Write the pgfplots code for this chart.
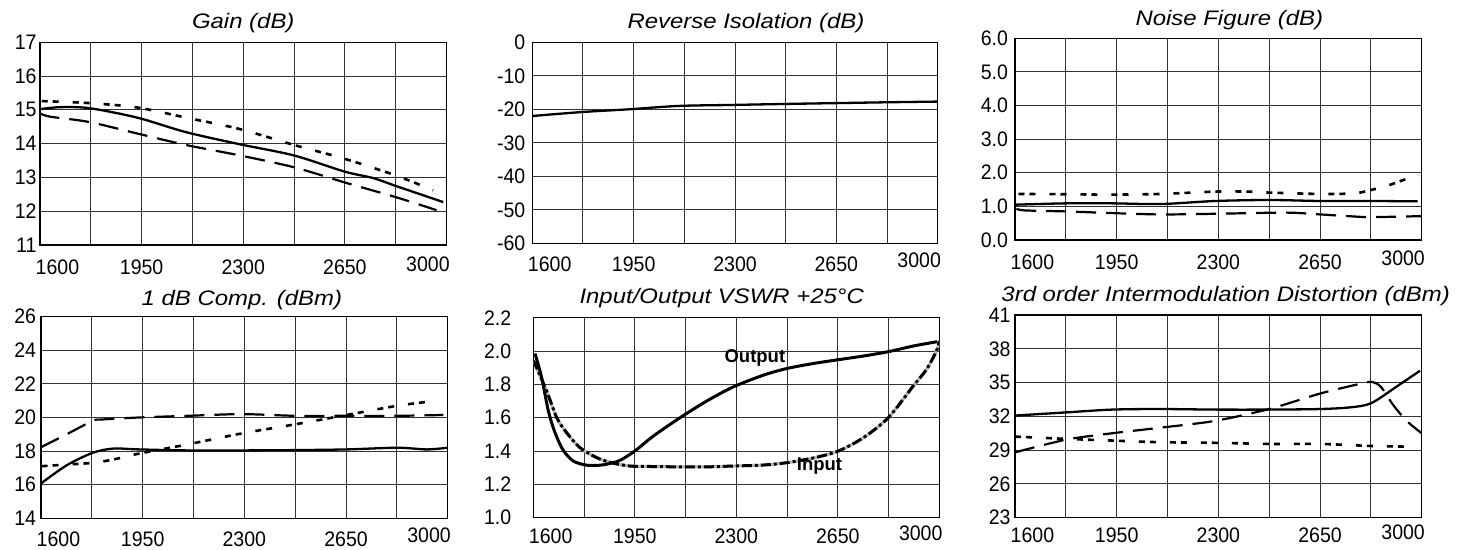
\documentclass[border=0pt]{standalone}
\usepackage{fontspec}
\setmainfont{Liberation Sans}
\newfontfamily\titlefont[FakeStretch=1.14]{Liberation Sans}
\newfontfamily\tickfont[FakeStretch=0.93]{Liberation Sans}
\usepackage{pgfplots}
\pgfplotsset{compat=1.18}
\pgfplotsset{
  panel/.style={
    scale only axis, anchor=south west, no marks,
    xmin=1600, xmax=3000,
    xtick={1600,1775,1950,2125,2300,2475,2650,2825,3000},
    xticklabels={,,1950,,2300,,2650,,},
    extra x ticks={1660,2936},
    extra x tick labels={1600,{\raisebox{3.5bp}{3000}}},
    extra x tick style={grid=none, major tick length=0pt},
    grid=major, major grid style={black!80, line width=1bp},
    axis line style={black, line width=1.1bp},
    major tick length=0pt, tick style={draw=none},
    tick label style={font=\tickfont\fontsize{21bp}{23bp}\selectfont},
    xticklabel style={anchor=base},
    title style={anchor=base, font=\titlefont\itshape\fontsize{21bp}{24bp}\selectfont},
  },
  solidc/.style={black, line width=2.3bp, smooth},
  shortc/.style={black, line width=2.6bp, dash pattern=on 6bp off 5bp on 6bp off 14bp, smooth},
  longc/.style={black, line width=2.2bp, dash pattern=on 20bp off 10bp, smooth},
}
\begin{document}
\begin{tikzpicture}
% ---------- Gain ----------
\begin{axis}[panel, at={(40bp,305bp)}, width=406.5bp, height=202.7bp,
  ymin=11, ymax=17, ytick={11,12,13,14,15,16,17}, yticklabels={11,12,13,14,15,16,17},
  xticklabel style={yshift=-30bp},
  title={Gain (dB)}, title style={at={(0.5,1)}, yshift=8bp}]
\addplot[solidc] coordinates {(1600,15.02) (1669,15.08) (1770,15.05) (1935,14.77) (2103,14.34) (2289,13.98) (2475,13.65) (2650,13.17) (2748,12.98) (2828,12.74) (2989,12.27)};
\addplot[shortc] coordinates {(1606,15.26) (1770,15.2) (1935,15.07) (2103,14.77) (2289,14.43) (2475,13.96) (2650,13.55) (2828,13.05) (2954,12.62)};
\addplot[longc] coordinates {(1600,14.9) (1634,14.8) (1770,14.64) (1935,14.3) (2103,13.96) (2289,13.65) (2475,13.3) (2650,12.85) (2828,12.41) (2966,12.03)};
\end{axis}
% ---------- Reverse Isolation ----------
\begin{axis}[panel, at={(532.3bp,306.7bp)}, width=405.4bp, height=201bp,
  ymin=-60, ymax=0, ytick={-60,-50,-40,-30,-20,-10,0}, yticklabels={-60,-50,-40,-30,-20,-10,0},
  yticklabel style={xshift=-3.5bp},
  xticklabel style={yshift=-28bp},
  title={Reverse Isolation (dB)}, title style={at={(0.527,1)}, yshift=8bp}]
\addplot[solidc] coordinates {(1600,-22.0) (1774,-20.8) (1934,-20.0) (2104,-19.0) (2290,-18.7) (2475,-18.4) (2652,-18.15) (2828,-17.9) (3000,-17.7)};
\end{axis}
% ---------- Noise Figure ----------
\begin{axis}[panel, at={(1015bp,310bp)}, width=406.7bp, height=201.7bp,
  ymin=0, ymax=6, ytick={0,1,2,3,4,5,6}, yticklabels={0.0,1.0,2.0,3.0,4.0,5.0,6.0},
  yticklabel style={xshift=-3.5bp},
  xticklabel style={yshift=-29.5bp},
  title={Noise Figure (dB)}, title style={at={(0.527,1)}, yshift=7.3bp}]
\addplot[solidc] coordinates {(1600,1.05) (1776,1.09) (1935,1.09) (2103,1.07) (2289,1.16) (2476,1.19) (2651,1.16) (2826,1.16) (2986,1.15)};
\addplot[shortc] coordinates {(1612,1.37) (1776,1.36) (1935,1.35) (2103,1.37) (2289,1.44) (2398,1.44) (2476,1.41) (2651,1.37) (2770,1.39) (2836,1.51) (2874,1.59) (2942,1.80) (2990,1.93)};
\addplot[longc] coordinates {(1605,0.93) (1634,0.88) (1776,0.85) (1935,0.8) (2103,0.76) (2289,0.78) (2476,0.81) (2559,0.81) (2651,0.76) (2766,0.7) (2826,0.68) (3000,0.71)};
\end{axis}
% ---------- 1 dB Comp ----------
\begin{axis}[panel, at={(41bp,31.7bp)}, width=406.7bp, height=201.6bp,
  ymin=14, ymax=26, ytick={14,16,18,20,22,24,26}, yticklabels={14,16,18,20,22,24,26},
  yticklabel style={xshift=-1.5bp},
  xticklabel style={yshift=-28bp},
  title={1 dB Comp. (dBm)}, title style={at={(0.494,1)}, yshift=5.7bp}]
\addplot[solidc] coordinates {(1602,16.1) (1688,17.15) (1778,17.9) (1849,18.15) (1937,18.1) (2105,18.04) (2291,18.04) (2477,18.06) (2652,18.1) (2827,18.2) (2928,18.1) (3000,18.2)};
\addplot[longc] coordinates {(1600,18.23) (1688,19.0) (1778,19.8) (1810,19.88) (1937,20.0) (2105,20.1) (2291,20.2) (2477,20.1) (2652,20.1) (2827,20.1) (2985,20.15)};
\addplot[shortc] coordinates {(1602,17.1) (1688,17.2) (1778,17.3) (1849,17.5) (1937,17.85) (2105,18.4) (2291,19.05) (2477,19.6) (2652,20.15) (2827,20.7) (2963,21.0)};
\end{axis}
% ---------- VSWR ----------
\begin{axis}[panel, at={(533.3bp,32.3bp)}, width=406bp, height=200bp,
  ymin=1.0, ymax=2.2, ytick={1.0,1.2,1.4,1.6,1.8,2.0,2.2}, yticklabels={1.0,1.2,1.4,1.6,1.8,2.0,2.2},
  yticklabel style={xshift=-18.5bp},
  xticklabel style={yshift=-26bp},
  title={Input/Output VSWR +25°C}, title style={at={(0.464,1)}, yshift=8.4bp}]
\addplot[black!30, line width=3bp, smooth] coordinates {(1600,1.945) (1646,1.76) (1681,1.6) (1715,1.51) (1761,1.42) (1819,1.36) (1870,1.33) (1933,1.31) (2014,1.307) (2106,1.305) (2198,1.305) (2290,1.31) (2393,1.316) (2474,1.33) (2565,1.358) (2652,1.4) (2738,1.48) (2824,1.6) (2910,1.79) (2956,1.89) (2990,2.0) (3000,2.06)};
\addplot[black, line width=3bp, dash pattern=on 10bp off 3bp on 3bp off 3bp, smooth] coordinates {(1600,1.945) (1646,1.76) (1681,1.6) (1715,1.51) (1761,1.42) (1819,1.36) (1870,1.33) (1933,1.31) (2014,1.307) (2106,1.305) (2198,1.305) (2290,1.31) (2393,1.316) (2474,1.33) (2565,1.358) (2652,1.4) (2738,1.48) (2824,1.6) (2910,1.79) (2956,1.89) (2990,2.0) (3000,2.06)};
\addplot[black, line width=3bp, smooth] coordinates {(1606,1.985) (1629,1.84) (1652,1.64) (1675,1.51) (1703,1.405) (1738,1.34) (1784,1.315) (1830,1.315) (1864,1.325) (1900,1.345) (1950,1.40) (2014,1.49) (2106,1.60) (2198,1.70) (2290,1.785) (2393,1.855) (2474,1.895) (2565,1.925) (2652,1.948) (2738,1.97) (2824,1.996) (2910,2.03) (2993,2.056)};
\node[font=\bfseries\fontsize{18.5bp}{20bp}\selectfont] at (axis cs:2364,1.956) {Output};
\node[font=\bfseries\fontsize{18.5bp}{20bp}\selectfont] at (axis cs:2587,1.311) {Input};
\end{axis}
% ---------- IMD ----------
\begin{axis}[panel, at={(1015bp,32.3bp)}, width=406.7bp, height=202.7bp,
  ymin=23, ymax=41, ytick={23,26,29,32,35,38,41}, yticklabels={23,26,29,32,35,38,41},
  yticklabel style={xshift=-1bp},
  xticklabel style={yshift=-25bp},
  title={3rd order Intermodulation Distortion (dBm)}, title style={at={(0.518,1)}, yshift=7.3bp}]
\addplot[solidc] coordinates {(1600,32.07) (1776,32.35) (1935,32.6) (2103,32.65) (2289,32.6) (2476,32.6) (2651,32.65) (2754,32.8) (2826,33.17) (2914,34.65) (2994,36.05)};
\addplot[longc] coordinates {(1600,28.8) (1776,29.93) (1935,30.5) (2103,31.0) (2289,31.6) (2476,32.66) (2651,34.03) (2790,34.9) (2830,35.05) (2860,34.6) (2902,33.0) (2948,31.6) (3000,30.5)};
\addplot[shortc] coordinates {(1600,30.2) (1776,30.0) (1935,29.85) (2103,29.7) (2289,29.65) (2476,29.55) (2651,29.55) (2826,29.37) (2983,29.3)};
\end{axis}
\pgfresetboundingbox
\useasboundingbox (0,0) rectangle (1464bp,550bp);
\end{tikzpicture}
\end{document}
